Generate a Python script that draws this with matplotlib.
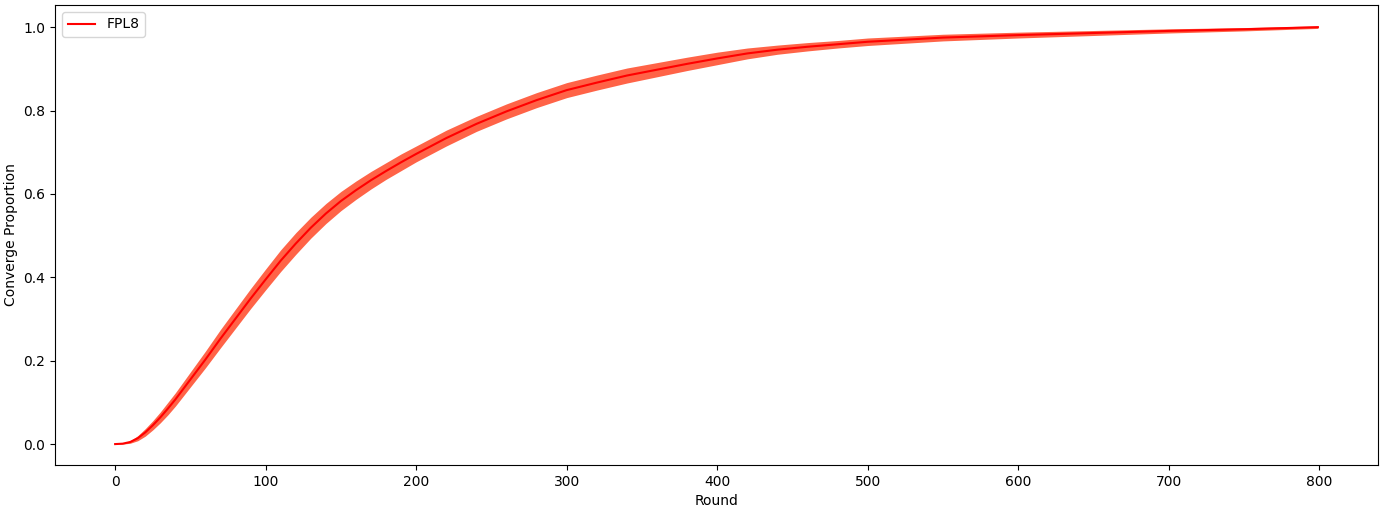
import matplotlib
matplotlib.use("Agg")
import matplotlib.pyplot as plt

rounds = [0, 5, 10, 15, 20, 25, 30, 35, 40, 50, 60, 70, 80, 90, 100, 110, 120, 130,
          140, 150, 160, 170, 180, 190, 200, 220, 240, 260, 280, 300, 320, 340,
          360, 380, 400, 420, 440, 460, 480, 500, 550, 600, 650, 700, 750, 799]
mean = [0.0, 0.001, 0.005, 0.014, 0.028, 0.045, 0.064, 0.085, 0.107, 0.155, 0.203,
        0.253, 0.301, 0.349, 0.395, 0.440, 0.481, 0.519, 0.553, 0.583, 0.609,
        0.633, 0.655, 0.676, 0.696, 0.734, 0.768, 0.798, 0.825, 0.849, 0.867,
        0.884, 0.898, 0.912, 0.925, 0.937, 0.946, 0.953, 0.959, 0.965, 0.975,
        0.981, 0.986, 0.991, 0.995, 1.0]
half = [0.0, 0.001, 0.003, 0.006, 0.009, 0.011, 0.013, 0.015, 0.016, 0.018, 0.020,
        0.022, 0.023, 0.024, 0.025, 0.026, 0.026, 0.025, 0.024, 0.023, 0.022,
        0.021, 0.020, 0.020, 0.019, 0.019, 0.018, 0.018, 0.018, 0.018, 0.018,
        0.018, 0.017, 0.016, 0.015, 0.013, 0.011, 0.010, 0.009, 0.009, 0.008,
        0.007, 0.006, 0.005, 0.004, 0.003]
lower = [m - h for m, h in zip(mean, half)]
upper = [m + h for m, h in zip(mean, half)]

fig = plt.figure(figsize=(13.81, 5.11), dpi=100)
ax = fig.add_subplot(111)
fig.subplots_adjust(left=55/1381, right=1378/1381, top=1-5/511, bottom=1-465/511)

ax.fill_between(rounds, lower, upper, color='tomato', linewidth=0)
ax.plot(rounds, mean, color='red', label='FPL8')
ax.set_xlabel('Round')
ax.set_ylabel('Converge Proportion')
ax.legend(loc='upper left')

fig.savefig('out.png', dpi=100)
